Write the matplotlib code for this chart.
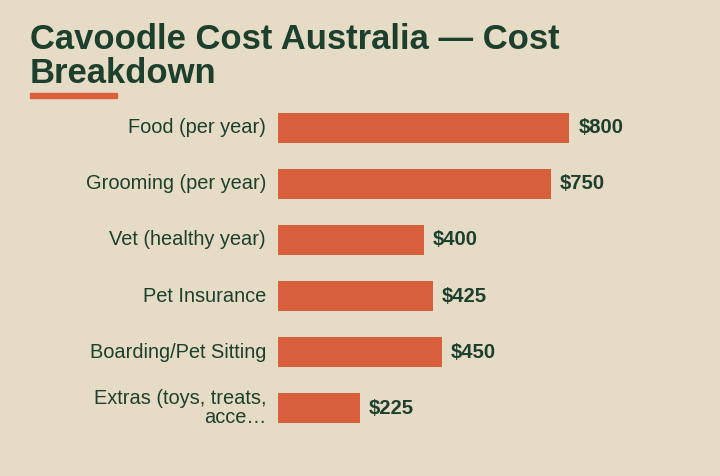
import matplotlib.pyplot as plt
from matplotlib.patches import Rectangle

# ==========================
# DATA
# ==========================
categories = [
    "Food (per year)",
    "Grooming (per year)",
    "Vet (healthy year)",
    "Pet Insurance",
    "Boarding/Pet Sitting",
    "Extras (toys, treats,\nacce\u2026",
]
costs = [800, 750, 400, 425, 450, 225]
value_labels = ["$800", "$750", "$400", "$425", "$450", "$225"]

TITLE_LINES = ["Cavoodle Cost Australia \u2014 Cost", "Breakdown"]

# ==========================
# STYLE
# ==========================
BG = "#E6DCC5"
DARK = "#1D3F2D"
ACCENT = "#D9603D"

plt.rcParams["font.family"] = ["Liberation Sans", "DejaVu Sans"]

W, H = 720, 476
fig = plt.figure(figsize=(W / 100, H / 100), dpi=100, facecolor=BG)

# axes: bars start at x=278px, 0.364 px per dollar, rows centred 128..408px
x0, px_per = 278, 0.364
xmax = 1000
ax_w = xmax * px_per
top_px, bot_px = 100, 436
ax = fig.add_axes([x0 / W, (H - bot_px) / H, ax_w / W, (bot_px - top_px) / H])
ax.set_facecolor(BG)

ypos = list(range(len(categories)))
ax.barh(ypos, costs, height=0.536, color=ACCENT)
ax.set_xlim(0, xmax)
ax.set_ylim(len(categories) - 0.5, -0.5)

ax.set_yticks(ypos)
ax.set_yticklabels(categories, fontsize=14.45, color=DARK)
for lbl in ax.get_yticklabels():
    lbl.set_linespacing(0.97)
    lbl.set_verticalalignment("center")
ax.tick_params(axis="y", length=0, pad=8.6)
ax.set_xticks([])
for s in ax.spines.values():
    s.set_visible(False)

for y, v, t in zip(ypos, costs, value_labels):
    ax.text(v + 9 / px_per, y, t, va="center", ha="left",
            fontsize=14.6, fontweight="bold", color=DARK)

# title (two lines, baselines at 49px and 83px) + underline
for base_px, line in zip([49, 83], TITLE_LINES):
    fig.text(30 / W, 1 - base_px / H, line, ha="left", va="baseline",
             fontsize=24.9, fontweight="bold", color=DARK)
fig.patches.append(Rectangle((30 / W, 1 - 98 / H), 87 / W, 5 / H,
                             transform=fig.transFigure, color=ACCENT))

fig.savefig("out.png", dpi=100, facecolor=BG)
